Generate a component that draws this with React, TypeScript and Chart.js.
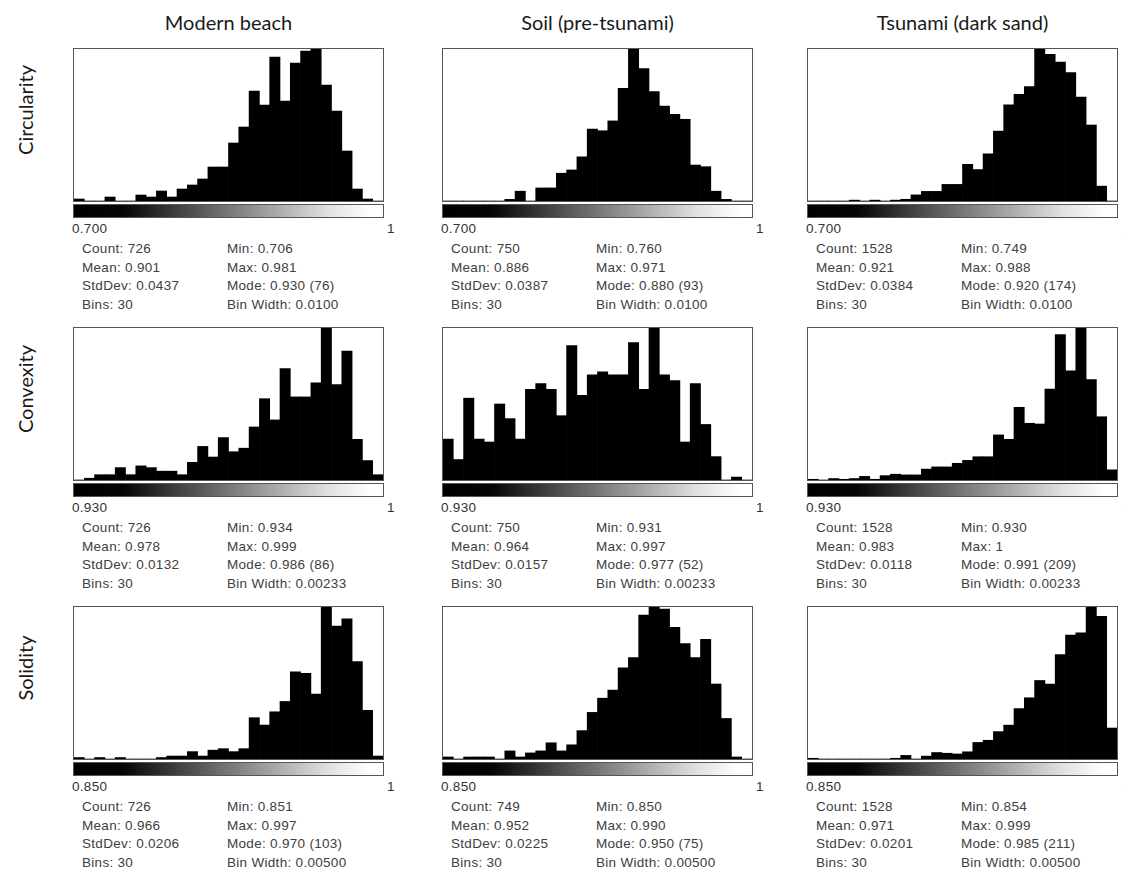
import React, { useEffect, useRef } from "react";
import { Chart, registerables } from "chart.js";

Chart.register(...registerables);

// ---- labels ----
const columnTitles = ["Modern beach", "Soil (pre-tsunami)", "Tsunami (dark sand)"];
const rowTitles = ["Circularity", "Convexity", "Solidity"];
const axisMinLabels = ["0.700", "0.930", "0.850"];
const axisMaxLabels = ["1", "1", "1"];
const binStarts = [0.7, 0.93, 0.85];
const binWidths = [0.01, 0.00233, 0.005];

// ---- histogram counts (30 bins each) ----
const circularityBeach = [1, 0, 0, 2, 0, 0, 3, 2, 5, 2, 6, 8, 11, 17, 17, 29, 37, 55, 48, 72, 50, 69, 75, 76, 58, 45, 25, 6, 1, 0];
const circularitySoil = [0, 0, 0, 0, 0, 0, 1, 6, 0, 8, 8, 17, 19, 27, 44, 43, 49, 69, 93, 81, 67, 58, 53, 50, 22, 21, 6, 1, 0, 0];
const circularityTsunami = [0, 0, 0, 0, 1, 0, 1, 0, 1, 2, 7, 11, 11, 19, 19, 42, 36, 54, 80, 110, 122, 131, 174, 168, 159, 147, 119, 87, 17, 0];

const convexityBeach = [0, 1, 3, 3, 7, 3, 8, 7, 5, 5, 3, 10, 19, 13, 24, 16, 18, 30, 46, 34, 63, 47, 47, 55, 86, 54, 73, 23, 11, 3];
const convexitySoil = [14, 7, 28, 14, 13, 26, 21, 14, 31, 33, 31, 22, 46, 29, 36, 37, 36, 36, 47, 31, 52, 36, 34, 13, 33, 19, 8, 0, 1, 0];
const convexityTsunami = [1, 0, 2, 1, 2, 5, 1, 6, 8, 7, 7, 15, 18, 18, 23, 27, 32, 32, 62, 56, 100, 78, 77, 125, 200, 150, 209, 138, 87, 14];

const solidityBeach = [1, 0, 1, 0, 1, 0, 0, 0, 1, 2, 2, 5, 2, 6, 7, 5, 7, 28, 23, 32, 39, 59, 58, 44, 103, 90, 95, 66, 33, 2];
const soliditySoil = [1, 0, 1, 1, 1, 0, 4, 1, 3, 4, 8, 4, 7, 14, 23, 30, 34, 45, 50, 71, 75, 74, 65, 57, 50, 59, 37, 20, 1, 0];
const solidityTsunami = [1, 0, 0, 0, 0, 0, 0, 0, 1, 5, 0, 4, 9, 8, 7, 10, 23, 26, 38, 47, 70, 85, 109, 104, 145, 172, 175, 211, 198, 43];

const histograms = [
  [circularityBeach, circularitySoil, circularityTsunami],
  [convexityBeach, convexitySoil, convexityTsunami],
  [solidityBeach, soliditySoil, solidityTsunami],
];

// ---- statistics text ----
const statCounts = [["726", "750", "1528"], ["726", "750", "1528"], ["726", "749", "1528"]];
const statMeans = [["0.901", "0.886", "0.921"], ["0.978", "0.964", "0.983"], ["0.966", "0.952", "0.971"]];
const statStdDevs = [["0.0437", "0.0387", "0.0384"], ["0.0132", "0.0157", "0.0118"], ["0.0206", "0.0225", "0.0201"]];
const statBins = [["30", "30", "30"], ["30", "30", "30"], ["30", "30", "30"]];
const statMins = [["0.706", "0.760", "0.749"], ["0.934", "0.931", "0.930"], ["0.851", "0.850", "0.854"]];
const statMaxs = [["0.981", "0.971", "0.988"], ["0.999", "0.997", "1"], ["0.997", "0.990", "0.999"]];
const statModes = [["0.930 (76)", "0.880 (93)", "0.920 (174)"], ["0.986 (86)", "0.977 (52)", "0.991 (209)"], ["0.970 (103)", "0.950 (75)", "0.985 (211)"]];
const statBinWidths = [["0.0100", "0.0100", "0.0100"], ["0.00233", "0.00233", "0.00233"], ["0.00500", "0.00500", "0.00500"]];

// ---- layout ----
const COL_LEFT = [73, 442, 807];
const ROW_TOP = [48, 327, 606];
const PANEL_W = 311;
const PLOT_H = 154;

function Histogram({ values, start, width }: { values: number[]; start: number; width: number }) {
  const ref = useRef<HTMLCanvasElement | null>(null);
  useEffect(() => {
    if (!ref.current) return;
    const labels = values.map((_, i) => (start + i * width).toFixed(4));
    const chart = new Chart(ref.current, {
      type: "bar",
      data: {
        labels,
        datasets: [
          {
            data: values,
            backgroundColor: "#000000",
            borderWidth: 0,
            barPercentage: 1,
            categoryPercentage: 1,
          },
        ],
      },
      options: {
        responsive: false,
        animation: false,
        events: [],
        layout: { padding: 0 },
        plugins: { legend: { display: false }, tooltip: { enabled: false } },
        scales: {
          x: { display: false, offset: true },
          y: { display: false, min: 0, max: Math.max(...values) },
        },
      },
    });
    return () => chart.destroy();
  }, [values, start, width]);
  return <canvas ref={ref} width={PANEL_W - 2} height={PLOT_H - 2} style={{ display: "block" }} />;
}

const statStyle: React.CSSProperties = {
  position: "absolute",
  fontFamily: "'Liberation Sans', Arial, sans-serif",
  fontSize: 13.5,
  letterSpacing: "0.3px",
  color: "#404040",
  whiteSpace: "nowrap",
  lineHeight: "15px",
  transform: "translateY(-50%)",
};

function Panel({ r, c }: { r: number; c: number }) {
  const L = COL_LEFT[c];
  const T = ROW_TOP[r];
  const leftLines = [
    `Count: ${statCounts[r][c]}`,
    `Mean: ${statMeans[r][c]}`,
    `StdDev: ${statStdDevs[r][c]}`,
    `Bins: ${statBins[r][c]}`,
  ];
  const rightLines = [
    `Min: ${statMins[r][c]}`,
    `Max: ${statMaxs[r][c]}`,
    `Mode: ${statModes[r][c]}`,
    `Bin Width: ${statBinWidths[r][c]}`,
  ];
  const lineY = [200, 218.5, 237, 255.5];
  return (
    <>
      <div
        style={{
          position: "absolute",
          left: L,
          top: T,
          width: PANEL_W - 2,
          height: PLOT_H - 2,
          border: "1px solid #555",
        }}
      >
        <Histogram values={histograms[r][c]} start={binStarts[r]} width={binWidths[r]} />
      </div>
      <div
        style={{
          position: "absolute",
          left: L,
          top: T + 156,
          width: PANEL_W - 2,
          height: 12,
          border: "1px solid #555",
          background: "linear-gradient(90deg, #000 0%, #050505 16%, #777 50%, #e0e0e0 82%, #fff 96%)",
        }}
      />
      <div style={{ ...statStyle, left: L - 1, top: T + 180, color: "#333" }}>{axisMinLabels[r]}</div>
      <div style={{ ...statStyle, left: L + PANEL_W + 3, top: T + 180, color: "#333" }}>{axisMaxLabels[r]}</div>
      {leftLines.map((t, i) => (
        <div key={"l" + i} style={{ ...statStyle, left: L + 9, top: T + lineY[i] }}>
          {t}
        </div>
      ))}
      {rightLines.map((t, i) => (
        <div key={"r" + i} style={{ ...statStyle, left: L + 154, top: T + lineY[i] }}>
          {t}
        </div>
      ))}
    </>
  );
}

export default function App() {
  return (
    <div
      style={{
        position: "absolute",
        left: 0,
        top: 0,
        width: 1122,
        height: 871,
        background: "#fff",
        overflow: "hidden",
      }}
    >
      {columnTitles.map((t, c) => (
        <div
          key={t}
          style={{
            position: "absolute",
            left: COL_LEFT[c],
            width: PANEL_W,
            top: 9,
            textAlign: "center",
            fontFamily: "Lato, 'Open Sans', sans-serif",
            fontSize: 20,
            color: "#1a1a1a",
            lineHeight: "26px",
          }}
        >
          {t}
        </div>
      ))}
      {rowTitles.map((t, r) => (
        <div
          key={t}
          style={{
            position: "absolute",
            left: 25,
            top: ROW_TOP[r] + 62,
            transform: "translate(-50%, -50%) rotate(-90deg)",
            fontFamily: "Lato, 'Open Sans', sans-serif",
            fontSize: 20,
            color: "#1a1a1a",
            whiteSpace: "nowrap",
            lineHeight: "24px",
          }}
        >
          {t}
        </div>
      ))}
      {[0, 1, 2].map((r) => [0, 1, 2].map((c) => <Panel key={`${r}-${c}`} r={r} c={c} />))}
    </div>
  );
}
